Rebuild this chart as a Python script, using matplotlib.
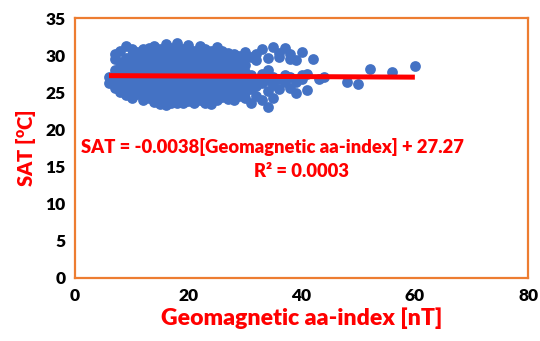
import matplotlib.pyplot as plt

plt.rcParams['font.family'] = ['Lato', 'DejaVu Sans']
plt.rcParams['mathtext.fontset'] = 'custom'
plt.rcParams['mathtext.bf'] = 'Lato:heavy'
plt.rcParams['mathtext.rm'] = 'Lato:heavy'

# scatter points, one column of aa-index at a time
columns = [
    (6, [26.2, 27.0]),
    (7, [25.6, 26.8, 28.0, 29.5, 30.2]),
    (8, [25.0, 26.0, 27.2, 28.4, 29.1, 30.6]),
    (9, [24.6, 25.5, 26.5, 27.5, 28.6, 29.6, 31.3]),
    (10, [24.3, 25.2, 26.3, 27.1, 28.0, 29.0, 30.0, 30.8]),
    (11, [24.8, 25.9, 26.8, 27.6, 28.5, 29.4, 30.4]),
    (12, [24.0, 25.0, 26.1, 27.0, 27.9, 28.8, 29.8, 30.9]),
    (13, [24.2, 25.4, 26.5, 27.3, 28.2, 29.2, 30.2, 31.0]),
    (14, [23.7, 24.6, 25.7, 26.7, 27.6, 28.6, 29.5, 30.5, 31.3]),
    (15, [23.4, 24.4, 25.3, 26.2, 27.1, 28.0, 28.9, 29.9, 30.9]),
    (16, [23.3, 24.2, 25.1, 26.0, 26.9, 27.8, 28.7, 29.6, 30.6, 31.5]),
    (17, [23.6, 24.6, 25.5, 26.4, 27.4, 28.3, 29.2, 30.1, 31.0]),
    (18, [23.5, 24.0, 24.9, 25.8, 26.7, 27.6, 28.5, 29.4, 30.3, 31.2, 31.6]),
    (19, [23.5, 24.4, 25.4, 26.3, 27.2, 28.1, 29.0, 29.9, 30.8]),
    (20, [23.8, 24.7, 25.6, 26.5, 27.4, 28.3, 29.2, 30.1, 31.0, 31.4]),
    (21, [23.5, 24.3, 25.2, 26.1, 27.0, 27.9, 28.8, 29.7, 30.6]),
    (22, [23.9, 24.9, 25.8, 26.7, 27.6, 28.5, 29.4, 30.3, 31.2]),
    (23, [23.6, 24.5, 25.4, 26.3, 27.2, 28.1, 29.0, 29.9, 30.8]),
    (24, [23.4, 24.2, 25.1, 26.0, 26.9, 27.8, 28.7, 29.6, 30.5]),
    (25, [24.0, 24.9, 25.8, 26.7, 27.6, 28.5, 29.4, 30.3, 31.1]),
    (26, [24.4, 25.3, 26.2, 27.1, 28.0, 28.9, 29.8, 30.6]),
    (27, [24.1, 25.0, 25.9, 26.8, 27.7, 28.6, 29.5, 30.3]),
    (28, [24.0, 24.8, 25.7, 26.6, 27.5, 28.4, 29.3, 30.1]),
    (29, [24.5, 25.4, 26.3, 27.2, 28.1, 29.0, 29.9]),
    (30, [24.2, 25.1, 26.0, 26.9, 27.8, 28.7, 29.6, 30.4]),
    (31, [23.6, 25.5, 26.4, 27.3, 29.7]),
    (32, [24.5, 25.9, 26.8, 29.3, 30.2]),
    (33, [23.9, 26.2, 27.5, 30.9]),
    (34, [23.0, 25.2, 26.6, 28.0, 29.6]),
    (35, [24.3, 26.0, 27.0, 31.1]),
    (36, [25.5, 26.8, 29.8, 30.3]),
    (37, [26.4, 27.3, 31.0]),
    (38, [25.6, 27.0, 29.5, 30.2]),
    (39, [24.9, 26.4, 29.3]),
    (40, [26.8, 27.3, 30.4]),
    (41, [25.3, 27.4]),
    (42, [29.5]),
    (43, [26.8]),
    (44, [27.0]),
    (48, [26.4]),
    (50, [26.1]),
    (52, [28.1]),
    (56, [27.7]),
    (60, [28.5]),
]

aa_index = []
sat = []
for x, ys in columns:
    for y in ys:
        aa_index.append(x)
        sat.append(y)

slope = -0.0038
intercept = 27.27

fig = plt.figure(figsize=(5.4, 3.41), dpi=100)
ax = fig.add_axes([0.139, 0.185, 0.839, 0.762])

ax.scatter(aa_index, sat, s=60, color='#4472C4', zorder=2, linewidths=0)
x0, x1 = min(aa_index), max(aa_index)
ax.plot([x0, x1], [slope * x0 + intercept, slope * x1 + intercept],
        color='#FF0000', lw=3.6, solid_capstyle='butt', zorder=3)

ax.set_xlim(0, 80)
ax.set_ylim(0, 35)
ax.set_xticks([0, 20, 40, 60, 80])
ax.set_yticks(range(0, 36, 5))
ax.tick_params(length=0, labelsize=12.5, pad=7)
for lbl in ax.get_xticklabels() + ax.get_yticklabels():
    lbl.set_fontweight('heavy')

for sp in ax.spines.values():
    sp.set_color('#ED7D31')
    sp.set_linewidth(1.6)

ax.set_xlabel('Geomagnetic aa-index [nT]', color='#FF0000', fontsize=16.6,
              fontweight='heavy', labelpad=3)
ax.set_ylabel(r'SAT [$^{\mathbf{o}}$C]', color='#FF0000', fontsize=14.5,
              fontweight='heavy', labelpad=5)

ax.text(34.9, 17.6, 'SAT = -0.0038[Geomagnetic aa-index] + 27.27',
        color='#FF0000', fontsize=13.2, fontweight='heavy', ha='center', va='center')
ax.text(40, 14.3, 'R² = 0.0003', color='#FF0000', fontsize=13.2,
        fontweight='heavy', ha='center', va='center')

fig.savefig('out.png', dpi=100)
